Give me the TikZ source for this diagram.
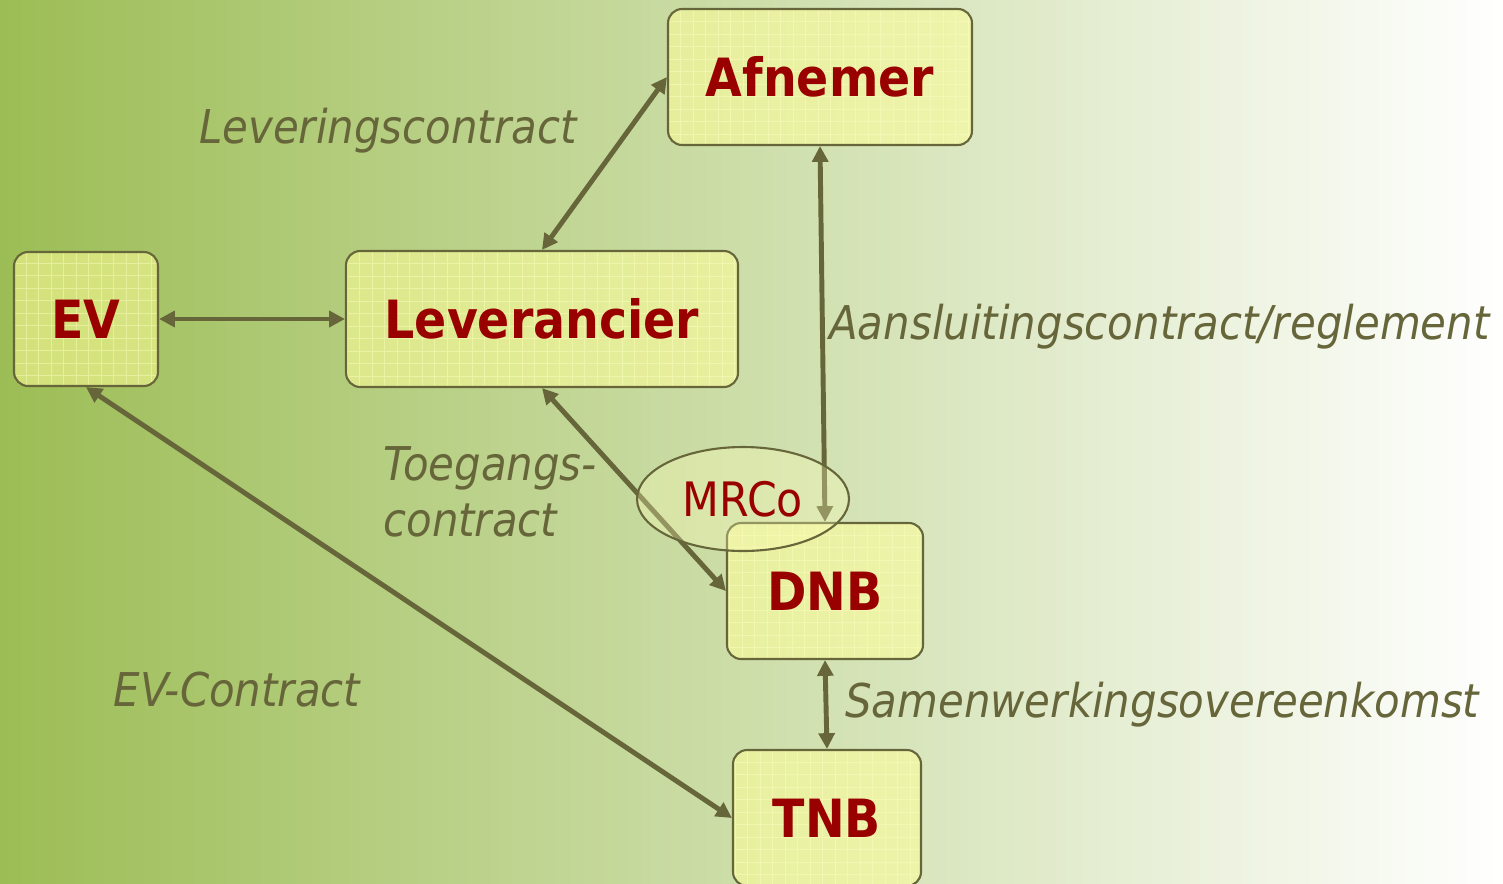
\documentclass[tikz,border=0pt]{standalone}
\usepackage{fontspec}
\setmainfont{DejaVu Sans Condensed}
\usetikzlibrary{arrows.meta, shapes.geometric}

\definecolor{lineolive}{HTML}{66663A}
\definecolor{partyred}{HTML}{990000}
\definecolor{boxyellow}{HTML}{FFFF99}
\definecolor{bgleft}{HTML}{9CBD55}
\definecolor{bgmid}{HTML}{D3DFC2}

\begin{document}
\begin{tikzpicture}[
    x=0.02cm, y=-0.02cm,
    party/.style={draw=lineolive, line width=1.2pt, rounded corners=8pt,
        fill=boxyellow, fill opacity=0.55, text opacity=1, text=partyred,
        font=\bfseries\fontsize{30}{34}\selectfont, inner sep=0pt, minimum height=2.72cm,
        path picture={\draw[boxyellow!60!white, opacity=0.45, line width=0.6pt, step=0.25cm]
            (path picture bounding box.south west) grid (path picture bounding box.north east);}},
    contract/.style={text=lineolive, font=\itshape\fontsize{26.5}{32}\selectfont, inner sep=0pt},
    link/.style={{Triangle[length=9pt,width=9pt]}-{Triangle[length=9pt,width=9pt]}, line width=2.8pt, draw=lineolive}
]
    % BACKGROUND
    \shade[left color=bgleft, middle color=bgmid, right color=white] (0,0) rectangle (1503,883);
    \useasboundingbox (0,0) rectangle (1503,883);

    % NODES
    \node[party, minimum width=6.08cm] (afnemer) at (820,77) {Afnemer};
    \node[party, minimum width=7.84cm] (leverancier) at (542,319) {Leverancier};
    \node[party, minimum width=2.88cm, minimum height=2.68cm] (ev) at (86,319) {EV};
    \node[party, minimum width=3.92cm] (dnb) at (825,591) {DNB};
    \node[party, minimum width=3.76cm] (tnb) at (827,818) {TNB};

    % EDGES
    \draw[link] (afnemer.west) -- (leverancier.north);
    \draw[link] (afnemer.south) -- (dnb.north);
    \draw[link] (ev.east) -- (leverancier.west);
    \draw[link] (leverancier.south) -- (dnb.west);
    \draw[link] (ev.south) -- (tnb.west);
    \draw[link] (dnb.south) -- (tnb.north);

    \node[ellipse, draw=lineolive, line width=1.2pt, fill=boxyellow!70!white, fill opacity=0.3, text opacity=1,
        text=partyred, font=\fontsize{27}{32}\selectfont, inner sep=0pt,
        minimum width=4.24cm, minimum height=2.08cm] (mrco) at (743,499) {MRCo};

    % LABELS
    \node[contract] (levering) at (388,131) {Leveringscontract};
    \node[contract, anchor=west] (aansluiting) at (829,327) {Aansluitingscontract/reglement};
    \node[contract, anchor=west, align=left] (toegang) at (383,492) {Toegangs-\\contract};
    \node[contract] (evcontract) at (237,690) {EV-Contract};
    \node[contract, anchor=west] (samenwerking) at (845,705) {Samenwerkingsovereenkomst};
\end{tikzpicture}
\end{document}
